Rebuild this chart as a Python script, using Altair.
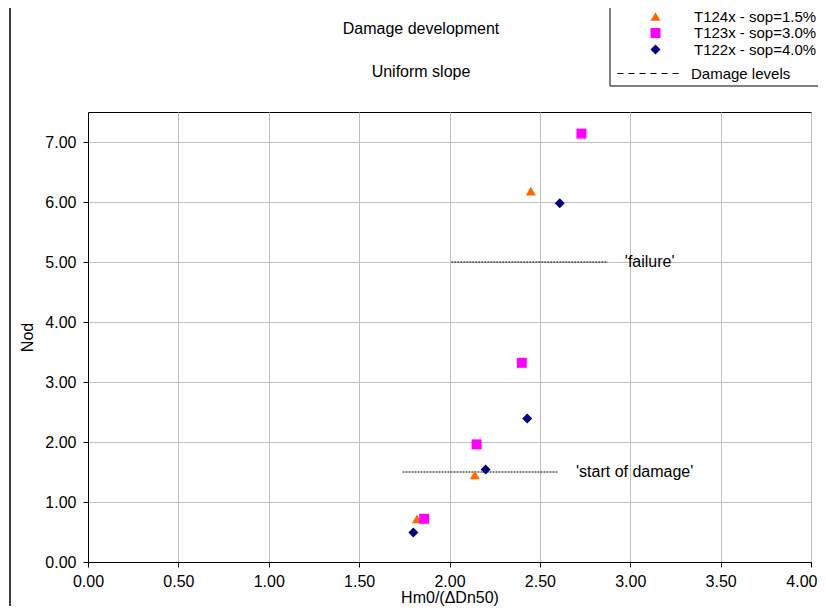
import altair as alt
import pandas as pd

# ---- data ----
series_names = ["T124x - sop=1.5%", "T123x - sop=3.0%", "T122x - sop=4.0%"]
series_colors = ["#FF6600", "#FF00FF", "#000080"]
series_shapes = ["triangle-up", "square", "diamond"]

t124_x = [1.82, 2.14, 2.45]
t124_y = [0.72, 1.45, 6.18]
t123_x = [1.86, 2.15, 2.40, 2.73]
t123_y = [0.72, 1.96, 3.32, 7.14]
t122_x = [1.80, 2.20, 2.43, 2.61]
t122_y = [0.49, 1.54, 2.39, 5.98]

level_labels = ["'start of damage'", "'failure'"]
level_y = [1.5, 5.0]
level_x_start = [1.74, 2.01]
level_x_end = [2.60, 2.875]
level_label_x = [2.70, 2.97]

x_ticks = [0.0, 0.5, 1.0, 1.5, 2.0, 2.5, 3.0, 3.5, 4.0]
y_ticks = [0, 1, 2, 3, 4, 5, 6, 7]

title_text = "Damage development"
subtitle_text = "Uniform slope"

FONT = "Liberation Sans"

rows = []
for name, xs_, ys_ in zip(series_names, [t124_x, t123_x, t122_x], [t124_y, t123_y, t122_y]):
    for xv, yv in zip(xs_, ys_):
        rows.append({"series": name, "x": xv, "y": yv})
points_df = pd.DataFrame(rows)

levels_df = pd.DataFrame({
    "kind": ["Damage levels"] * len(level_y),
    "x1": level_x_start,
    "x2": level_x_end,
    "y": level_y,
    "label": level_labels,
    "lx": level_label_x,
})

xscale = alt.Scale(domain=[0, 4], nice=False, zero=False)
yscale = alt.Scale(domain=[0, 7.5], nice=False, zero=False)

xaxis = alt.Axis(
    values=x_ticks, format=".2f", title="Hm0/(ΔDn50)",
    labelPadding=6, titlePadding=0, labelFlush=False,
    labelAlign={"condition": {"test": "datum.value >= 4", "value": "right"}, "value": "center"},
    labelOffset={"condition": {"test": "datum.value >= 4", "value": 6}, "value": 0},
)
yaxis = alt.Axis(values=y_ticks, format=".2f", title="Nod",
                 labelPadding=7, titlePadding=9, labelFlush=False)

one = pd.DataFrame({"a": [0]})

frame = alt.Chart(one).mark_rect(filled=False, stroke="black", strokeWidth=1.5).encode(
    x=alt.value(-78), x2=alt.value(760), y=alt.value(-107), y2=alt.value(530)
)

legend_box = alt.Chart(one).mark_rect(fill="white", stroke="black", strokeWidth=1).encode(
    x=alt.value(522), x2=alt.value(760), y=alt.value(-107), y2=alt.value(-26)
)

titles = alt.Chart(pd.DataFrame({"t": [title_text, subtitle_text], "ty": [-78, -35]})).mark_text(
    align="center", baseline="alphabetic", font=FONT, fontSize=16, color="black"
).encode(
    x=alt.value(333),
    y=alt.Y("ty:Q", scale=None),
    text="t:N",
)

rules = alt.Chart(levels_df).mark_rule(color="black", strokeWidth=1, strokeDash=[2, 1]).encode(
    x=alt.X("x1:Q", scale=xscale, axis=xaxis),
    x2="x2:Q",
    y=alt.Y("y:Q", scale=yscale, axis=yaxis),
    opacity=alt.Opacity(
        "kind:N",
        scale=alt.Scale(domain=["Damage levels"], range=[1]),
        legend=alt.Legend(
            title=None, orient="none", legendX=529, legendY=-72,
            symbolType="stroke", symbolSize=4356, symbolDash=[6, 5],
            symbolStrokeColor="black", symbolStrokeWidth=1,
            labelFont=FONT, labelFontSize=15, labelColor="black",
            labelOffset=7, padding=0,
        ),
    ),
)

labels = alt.Chart(levels_df).mark_text(
    align="left", baseline="middle", font=FONT, fontSize=16, color="black"
).encode(
    x=alt.X("lx:Q", scale=xscale),
    y=alt.Y("y:Q", scale=yscale),
    text="label:N",
)

pt_legend = alt.Legend(
    title=None, orient="none", legendX=560, legendY=-103,
    symbolSize=100, rowPadding=0.5, labelOffset=31, padding=0,
    labelFont=FONT, labelFontSize=15, labelColor="black",
    symbolStrokeWidth=0,
)

points = alt.Chart(points_df).mark_point(filled=True, size=100, opacity=1).encode(
    x=alt.X("x:Q", scale=xscale),
    y=alt.Y("y:Q", scale=yscale),
    color=alt.Color("series:N", scale=alt.Scale(domain=series_names, range=series_colors),
                    legend=pt_legend),
    shape=alt.Shape("series:N", scale=alt.Scale(domain=series_names, range=series_shapes),
                    legend=pt_legend),
)

chart = alt.layer(frame, legend_box, titles, rules, labels, points).properties(
    width=723,
    height=450,
    padding={"left": 80, "top": 104, "right": 7, "bottom": 44},
    autosize=alt.AutoSizeParams(type="none"),
).configure_view(
    stroke="black", strokeWidth=1
).configure_axis(
    gridColor="#c0c0c0", gridWidth=1,
    domainColor="black", tickColor="black", tickSize=5,
    labelFont=FONT, labelFontSize=16, labelColor="black",
    titleFont=FONT, titleFontSize=16, titleFontWeight="normal", titleColor="black",
)

chart.save("out.html", embed_options={"renderer": "svg", "actions": False})
